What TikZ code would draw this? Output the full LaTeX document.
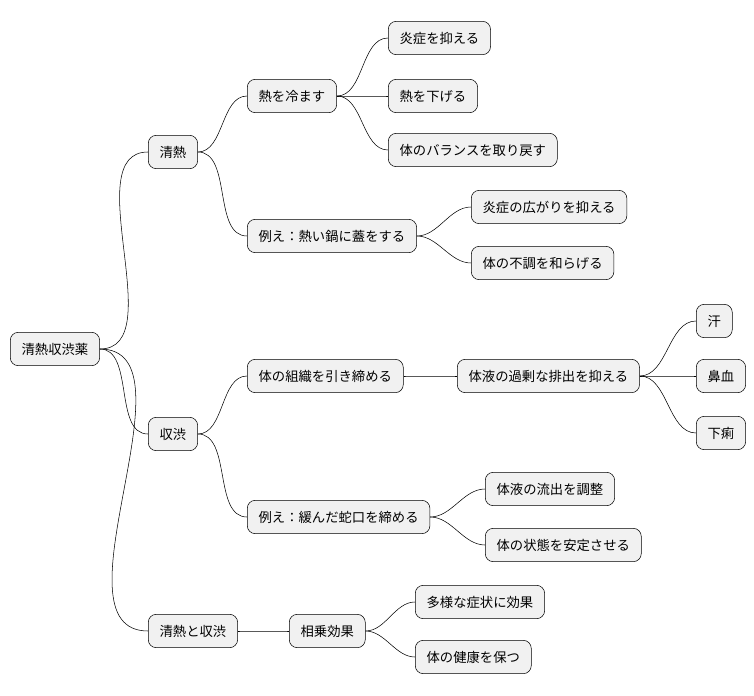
\documentclass[tikz,border=0pt]{standalone}
\usepackage{fontspec}
\setmainfont{Noto Sans CJK JP}
\usetikzlibrary{positioning}
\definecolor{boxgray}{HTML}{F1F1F1}
\tikzset{
	topic/.style={rectangle,rounded corners=6pt,draw=black,fill=boxgray,thin,
		anchor=west,minimum height=25pt,inner xsep=8.5pt,font=\fontsize{10}{12}\selectfont},
	link/.style={thin,out=0,in=180,looseness=0.9}
}
\begin{document}
\begin{tikzpicture}[x=0.75pt,y=-0.75pt]
\useasboundingbox (0,0) rectangle (754,696);
\node[topic] (Root) at (10,349) {清熱収渋薬};
% cooling branch
\node[topic] (Seinetsu) at (148,152) {清熱};
\node[topic] (Cool) at (247,96) {熱を冷ます};
\node[topic] (Inflam) at (388,38) {炎症を抑える};
\node[topic] (Fever) at (388,96) {熱を下げる};
\node[topic] (Balance) at (388,150) {体のバランスを取り戻す};
\node[topic] (Pot) at (247,236) {例え：熱い鍋に蓋をする};
\node[topic] (Spread) at (471,207) {炎症の広がりを抑える};
\node[topic] (Ease) at (471,263) {体の不調を和らげる};
% astringent branch
\node[topic] (Shuju) at (148,434) {収渋};
\node[topic] (Tighten) at (247,376) {体の組織を引き締める};
\node[topic] (Excess) at (457,376) {体液の過剰な排出を抑える};
\node[topic] (Sweat) at (696,321) {汗};
\node[topic] (Nose) at (696,376) {鼻血};
\node[topic] (Diarrhea) at (696,433) {下痢};
\node[topic] (Tap) at (247,517) {例え：緩んだ蛇口を締める};
\node[topic] (Flow) at (485,489) {体液の流出を調整};
\node[topic] (Stable) at (485,545) {体の状態を安定させる};
% combined branch
\node[topic] (Both) at (148,631) {清熱と収渋};
\node[topic] (Synergy) at (289,631) {相乗効果};
\node[topic] (Various) at (415,602) {多様な症状に効果};
\node[topic] (Health) at (415,657) {体の健康を保つ};

\foreach \a/\b in {Root/Seinetsu,Root/Shuju,Root/Both,
	Seinetsu/Cool,Seinetsu/Pot,Cool/Inflam,Cool/Fever,Cool/Balance,
	Pot/Spread,Pot/Ease,Shuju/Tighten,Shuju/Tap,Tighten/Excess,
	Excess/Sweat,Excess/Nose,Excess/Diarrhea,Tap/Flow,Tap/Stable,
	Both/Synergy,Synergy/Various,Synergy/Health}
	\draw[link] (\a.east) to (\b.west);
\end{tikzpicture}
\end{document}
